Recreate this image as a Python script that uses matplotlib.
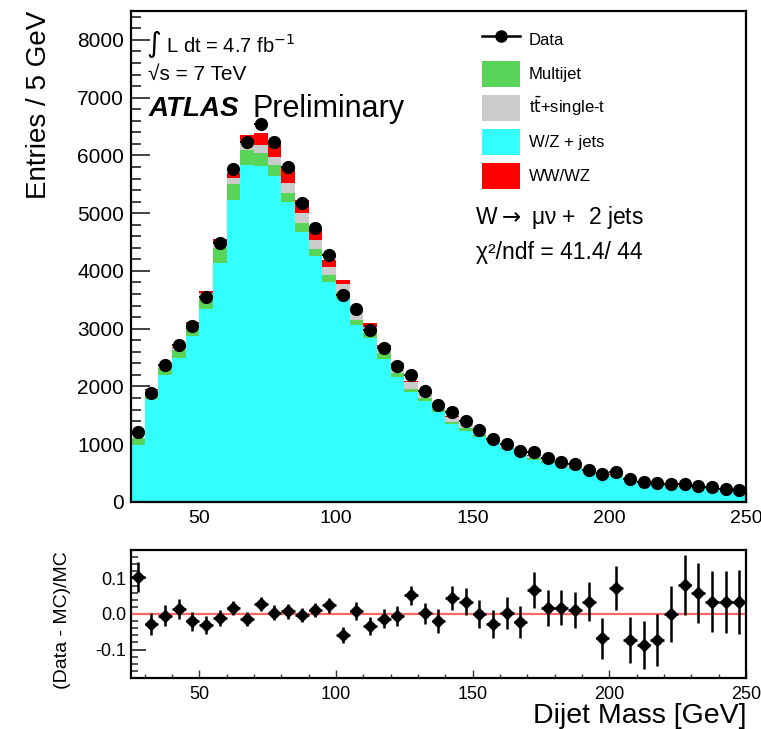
import numpy as np
import matplotlib
matplotlib.use("Agg")
import matplotlib.pyplot as plt
from matplotlib.patches import Patch
from matplotlib.lines import Line2D
from matplotlib.ticker import MultipleLocator

plt.rcParams["font.family"] = ["Liberation Sans", "DejaVu Sans"]

# Bin centres (5 GeV bins from 25 to 250 GeV)
mass = [27.5 + 5 * i for i in range(45)]

# Data (entries per bin)
data = [1220, 1890, 2370, 2719, 3053, 3544, 4479, 5766, 6240, 6546,
        6240, 5806, 5183, 4739, 4277, 3584, 3342, 2978, 2661, 2360,
        2199, 1922, 1680, 1553, 1403, 1241, 1096, 999, 889, 866,
        756, 687, 664, 554, 488, 514, 398, 347, 332, 310,
        315, 280, 262, 228, 210]

# MC stack components
wz_jets = [987, 1790, 2200, 2500, 2875, 3340, 4130, 5230, 5835, 5820,
           5645, 5200, 4680, 4250, 3805, 3515, 3065, 2835, 2475, 2170,
           1910, 1740, 1565, 1345, 1230, 1125, 1030, 910, 830, 735,
           678, 615, 565, 485, 477, 435, 391, 346, 327, 282,
           264, 240, 230, 200, 185]
multijet = [116, 120, 115, 130, 135, 190, 260, 275, 260, 220,
            190, 155, 145, 125, 125, 125, 90, 85, 100, 70,
            40, 55, 40, 45, 45, 40, 35, 32, 30, 28,
            25, 23, 22, 20, 19, 17, 15, 14, 13, 11,
            10, 10, 9, 8, 7]
top = [4, 30, 40, 35, 70, 80, 100, 100, 145, 145,
       145, 165, 175, 165, 145, 135, 160, 115, 115, 135,
       130, 115, 95, 85, 70, 60, 55, 48, 44, 39,
       36, 33, 30, 26, 25, 22, 20, 18, 16, 14,
       13, 12, 12, 10, 9]
diboson = [2, 10, 15, 15, 30, 40, 55, 85, 115, 200,
           260, 300, 220, 190, 115, 70, 40, 60, 30, 25,
           15, 12, 12, 10, 10, 10, 10, 9, 8, 7,
           6, 6, 5, 5, 5, 4, 4, 3, 3, 3,
           3, 2, 2, 2, 2]

# (Data - MC)/MC and its uncertainty
ratio = [0.104, -0.028, -0.005, 0.015, -0.021, -0.030, -0.012, 0.017, -0.015, 0.027,
         0.004, 0.007, -0.003, 0.011, 0.024, -0.059, 0.008, -0.033, -0.013, -0.007,
         0.052, 0.002, -0.020, 0.045, 0.035, 0.000, -0.028, 0.004, -0.023, 0.067,
         0.017, 0.018, 0.011, 0.034, -0.068, 0.073, -0.073, -0.087, -0.073, 0.000,
         0.082, 0.059, 0.035, 0.034, 0.034]
ratio_err = [0.042, 0.032, 0.030, 0.028, 0.027, 0.025, 0.022, 0.020, 0.020, 0.020,
             0.020, 0.020, 0.020, 0.020, 0.022, 0.022, 0.025, 0.025, 0.027, 0.028,
             0.028, 0.030, 0.033, 0.035, 0.037, 0.040, 0.040, 0.045, 0.045, 0.050,
             0.050, 0.050, 0.050, 0.055, 0.058, 0.062, 0.065, 0.068, 0.072, 0.078,
             0.084, 0.085, 0.085, 0.087, 0.090]

c_wz = "#33ffff"
c_mj = "#58d458"
c_top = "#cccccc"
c_db = "#ff0000"

fig = plt.figure(figsize=(7.61, 7.29), dpi=100)
ax = fig.add_axes([0.1721, 0.3114, 0.8082, 0.6735])
rax = fig.add_axes([0.1721, 0.0700, 0.8082, 0.1756])

# Stacked MC
bottom = np.zeros(len(mass))
for vals, col in [(wz_jets, c_wz), (multijet, c_mj), (top, c_top), (diboson, c_db)]:
    ax.bar(mass, vals, width=5, bottom=bottom, color=col, linewidth=0, zorder=3)
    bottom = bottom + np.array(vals)

ax.errorbar(mass, data, xerr=2.5, fmt="o", color="black", markersize=8.5,
            elinewidth=1.3, capsize=0, zorder=6)

ax.set_xlim(25, 250)
ax.set_ylim(0, 8500)
ax.xaxis.set_major_locator(MultipleLocator(50))
ax.xaxis.set_minor_locator(MultipleLocator(10))
ax.yaxis.set_major_locator(MultipleLocator(1000))
ax.yaxis.set_minor_locator(MultipleLocator(200))
ax.tick_params(which="both", direction="in", top=False, right=False, labelsize=15, color="#333333")
ax.tick_params(axis="x", labelsize=14)
ax.tick_params(axis="y", which="major", length=14, width=1.3, pad=5)
ax.tick_params(axis="y", which="minor", length=7, width=1.3)
ax.tick_params(axis="x", which="major", length=7, width=1.0, pad=6)
ax.tick_params(axis="x", which="minor", length=4, width=1.0)
for s in ax.spines.values():
    s.set_linewidth(1.6)
    s.set_zorder(5)
ax.set_ylabel("Entries / 5 GeV", fontsize=20, loc="top", labelpad=18)

ax.text(0.024, 0.933, r"$\int$ L dt = 4.7 fb$^{-1}$", transform=ax.transAxes,
        fontsize=14.5, va="center")
ax.text(0.028, 0.870, "\u221as = 7 TeV", transform=ax.transAxes,
        fontsize=15, va="center")
ax.text(0.028, 0.800, "ATLAS", transform=ax.transAxes, fontsize=20,
        fontweight="bold", fontstyle="italic", va="center")
ax.text(0.197, 0.800, "Preliminary", transform=ax.transAxes, fontsize=22, va="center")
ax.text(0.559, 0.580, "W$\\rightarrow$ \u03bc\u03bd +  2 jets",
        transform=ax.transAxes, fontsize=16.5, va="center")
ax.text(0.561, 0.509, "\u03c7\u00b2/ndf = 41.4/ 44", transform=ax.transAxes,
        fontsize=16.5, va="center")

handles = [
    Line2D([], [], color="black", marker="o", markersize=8, linewidth=1.8),
    Patch(facecolor=c_mj, edgecolor="none"),
    Patch(facecolor=c_top, edgecolor="none"),
    Patch(facecolor=c_wz, edgecolor="none"),
    Patch(facecolor=c_db, edgecolor="none"),
]
labels = ["Data", "Multijet", r"t$\bar{\rm t}$+single-t", "W/Z + jets", "WW/WZ"]
ax.legend(handles, labels, loc="upper left", bbox_to_anchor=(0.57, 0.968),
          frameon=False, fontsize=12, handlelength=2.3, handleheight=2.0,
          labelspacing=0.5, handletextpad=0.55, borderpad=0, borderaxespad=0)

# Ratio panel
rax.axhline(0, color="#ff6666", linewidth=1.6, zorder=2)
rax.errorbar(mass, ratio, yerr=ratio_err, xerr=2.5, fmt="D", color="black",
             markersize=6.5, elinewidth=1.8, capsize=0, zorder=4)
rax.set_xlim(25, 250)
rax.set_ylim(-0.18, 0.18)
rax.xaxis.set_major_locator(MultipleLocator(50))
rax.xaxis.set_minor_locator(MultipleLocator(10))
rax.yaxis.set_minor_locator(MultipleLocator(0.02))
rax.set_yticks([-0.1, 0.0, 0.1])
rax.set_yticklabels(["-0.1", "0.0", "0.1"])
rax.tick_params(which="both", direction="in", top=False, right=False, labelsize=13, color="#333333")
rax.tick_params(axis="y", which="major", length=11, width=1.3)
rax.tick_params(axis="y", which="minor", length=5, width=1.2)
rax.tick_params(axis="x", which="major", length=6, width=1.0, pad=6)
rax.tick_params(axis="x", which="minor", length=3, width=1.0)
for s in rax.spines.values():
    s.set_linewidth(1.6)
rax.set_ylabel("(Data - MC)/MC", fontsize=14)
rax.yaxis.set_label_coords(-0.097, 0.45)
rax.set_xlabel("Dijet Mass [GeV]", fontsize=20.5, loc="right", labelpad=0)

fig.savefig("out.png", dpi=100)
